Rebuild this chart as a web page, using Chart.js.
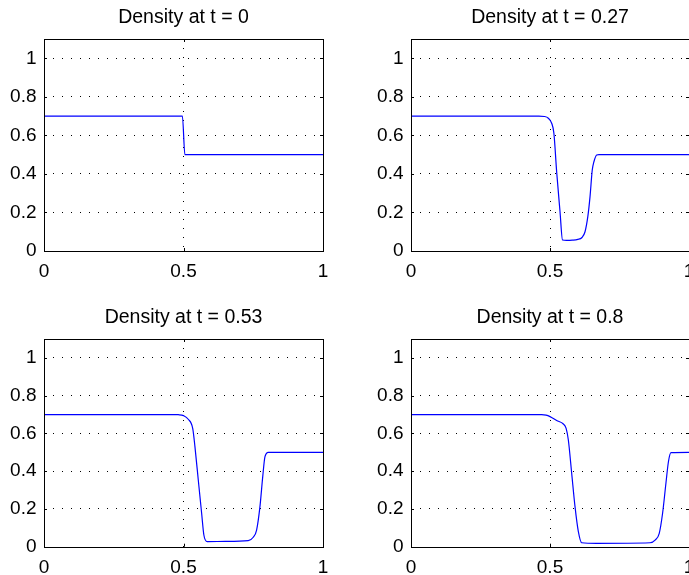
<!DOCTYPE html>
<html>
<head>
<meta charset="utf-8">
<script src="https://cdn.jsdelivr.net/npm/chart.js@4.4.0/dist/chart.umd.min.js"></script>
<style>
  html, body { margin: 0; padding: 0; background: #fff; }
  body { width: 689px; height: 575px; position: relative; overflow: hidden; }
  canvas { position: absolute; }
</style>
</head>
<body>
<canvas id="c0" width="344" height="290" style="left:0px;top:0px"></canvas>
<canvas id="c1" width="322" height="290" style="left:367px;top:0px"></canvas>
<canvas id="c2" width="344" height="275" style="left:0px;top:300px"></canvas>
<canvas id="c3" width="322" height="275" style="left:367px;top:300px"></canvas>
<script>
"use strict";

// titles and ticks
var titles = ['Density at t = 0', 'Density at t = 0.27', 'Density at t = 0.53', 'Density at t = 0.8'];
var xTicks = [0, 0.5, 1];
var xTickLabels = ['0', '0.5', '1'];
var yTicks = [0, 0.2, 0.4, 0.6, 0.8, 1];
var yTickLabels = ['0', '0.2', '0.4', '0.6', '0.8', '1'];

// density profiles
var x0   = [0, 0.496, 0.505, 1];
var rho0 = [0.7, 0.7, 0.5, 0.5];

var x1   = [0, 0.46, 0.48, 0.494, 0.506, 0.514, 0.524, 0.536, 0.545, 0.56, 0.58, 0.60, 0.615, 0.626, 0.636, 0.644, 0.652, 0.658, 0.668, 0.676, 1];
var rho1 = [0.7, 0.7, 0.698, 0.689, 0.663, 0.611, 0.41, 0.205, 0.057, 0.055, 0.056, 0.06, 0.07, 0.1, 0.178, 0.282, 0.42, 0.463, 0.498, 0.5, 0.5];

var x2   = [0, 0.46, 0.481, 0.5, 0.517, 0.533, 0.541, 0.553, 0.565, 0.573, 0.585, 0.65, 0.732, 0.75, 0.762, 0.774, 0.784, 0.792, 0.804, 1];
var rho2 = [0.7, 0.7, 0.699, 0.694, 0.675, 0.627, 0.53, 0.353, 0.177, 0.062, 0.027, 0.028, 0.032, 0.05, 0.088, 0.212, 0.371, 0.477, 0.5, 0.5];

var x3   = [0, 0.47, 0.486, 0.5, 0.524, 0.548, 0.558, 0.566, 0.578, 0.59, 0.602, 0.614, 0.668, 0.86, 0.878, 0.893, 0.905, 0.917, 0.926, 0.935, 1];
var rho3 = [0.7, 0.7, 0.697, 0.689, 0.668, 0.65, 0.627, 0.565, 0.389, 0.212, 0.08, 0.021, 0.018, 0.021, 0.035, 0.071, 0.177, 0.336, 0.45, 0.498, 0.5];

var xs = [x0, x1, x2, x3];
var rhos = [rho0, rho1, rho2, rho3];

// where each axes box sits inside its canvas: left, top, right, bottom margins
var panels = [
    {id: 'c0', left: 44, top: 39, right: 21, bottom: 39},
    {id: 'c1', left: 44, top: 39, right: 0, bottom: 39},
    {id: 'c2', left: 44, top: 39, right: 21, bottom: 28.3},
    {id: 'c3', left: 44, top: 39, right: 0, bottom: 28.3}
];

var fontFamily = '"Liberation Sans", Arial, Helvetica, sans-serif';
var titleSize = 19.5;

// matlab style box with inward ticks
var boxPlugin = {
    id: 'box',
    afterDraw: function(chart) {
        var a = chart.chartArea;
        var ctx = chart.ctx;
        var sx = chart.scales.x, sy = chart.scales.y;
        var tl = 3;
        ctx.save();
        ctx.strokeStyle = '#000';
        ctx.lineWidth = 1;
        ctx.beginPath();
        xTicks.forEach(function(v) {
            var p = Math.round(sx.getPixelForValue(v)) + 0.5;
            ctx.moveTo(p, a.bottom); ctx.lineTo(p, a.bottom - tl);
            ctx.moveTo(p, a.top); ctx.lineTo(p, a.top + tl);
        });
        yTicks.forEach(function(v) {
            var p = Math.round(sy.getPixelForValue(v)) + 0.5;
            ctx.moveTo(a.left, p); ctx.lineTo(a.left + tl, p);
            ctx.moveTo(a.right, p); ctx.lineTo(a.right - tl, p);
        });
        ctx.stroke();
        ctx.strokeRect(Math.round(a.left) + 0.5, Math.round(a.top) + 0.5,
                       Math.round(a.right) - Math.round(a.left), Math.round(a.bottom) - Math.round(a.top));
        ctx.restore();
    }
};

function gridColor(max) {
    return function(c) {
        if (!c.tick || c.tick.value === 0 || c.tick.value === max) return 'rgba(0,0,0,0)';
        return '#000';
    };
}

panels.forEach(function(p, i) {
    var pts = xs[i].map(function(x, j) { return {x: x, y: rhos[i][j]}; });

    new Chart(document.getElementById(p.id), {
        type: 'line',
        data: {
            datasets: [{
                data: pts,
                borderColor: '#0000ff',
                borderWidth: 1.2,
                pointRadius: 0,
                fill: false,
                cubicInterpolationMode: 'monotone'
            }]
        },
        options: {
            responsive: false,
            animation: false,
            layout: {padding: {left: 0, top: 0, right: p.right, bottom: 0}},
            plugins: {
                legend: {display: false},
                tooltip: {enabled: false},
                title: {
                    display: true,
                    text: titles[i],
                    fullSize: false,
                    color: '#000',
                    font: {family: fontFamily, size: titleSize, weight: 'normal', lineHeight: 1.2},
                    padding: {top: 6, bottom: p.top - 6 - titleSize * 1.2}
                }
            },
            scales: {
                x: {
                    type: 'linear',
                    min: 0, max: 1,
                    afterBuildTicks: function(s) { s.ticks = xTicks.map(function(v) { return {value: v}; }); },
                    afterFit: function(s) {
                        s.height = p.bottom;
                        s.paddingLeft = 0; s.paddingRight = 0;
                    },
                    ticks: {
                        autoSkip: false,
                        maxRotation: 0,
                        padding: 9.5,
                        color: '#000',
                        font: {family: fontFamily, size: 19},
                        callback: function(v, k) { return xTickLabels[k]; }
                    },
                    grid: {color: gridColor(1), lineWidth: 1, drawTicks: false},
                    border: {display: false, dash: [1, 8]}
                },
                y: {
                    type: 'linear',
                    min: 0, max: 1.1,
                    afterBuildTicks: function(s) { s.ticks = yTicks.map(function(v) { return {value: v}; }); },
                    afterFit: function(s) {
                        s.width = p.left;
                        s.paddingTop = 0; s.paddingBottom = 0;
                    },
                    ticks: {
                        autoSkip: false,
                        padding: 7.5,
                        color: '#000',
                        font: {family: fontFamily, size: 19},
                        callback: function(v, k) { return yTickLabels[k]; }
                    },
                    grid: {color: gridColor(1.1), lineWidth: 1, drawTicks: false},
                    border: {display: false, dash: [1, 8]}
                }
            }
        },
        plugins: [boxPlugin]
    });
});
</script>
</body>
</html>
